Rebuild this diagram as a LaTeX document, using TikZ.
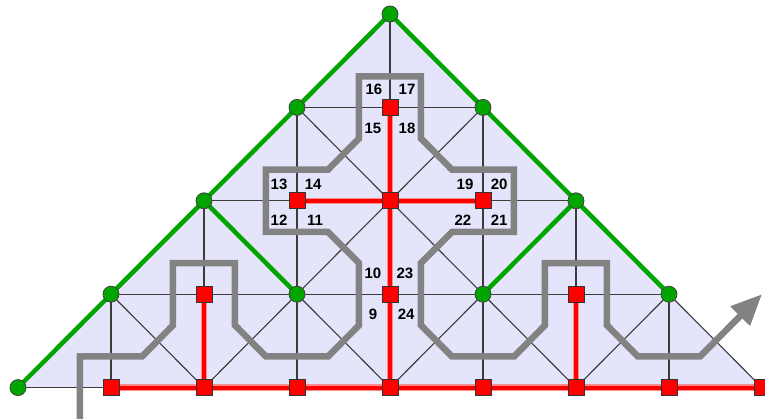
\documentclass[tikz,border=0pt]{standalone}
\usepackage{fontspec}
\setmainfont{Liberation Sans}
\usetikzlibrary{arrows.meta,backgrounds}
\definecolor{lav}{RGB}{228,228,250}
\definecolor{grn}{RGB}{0,165,0}
\definecolor{pathgray}{RGB}{130,130,130}
\definecolor{gridc}{RGB}{60,60,60}
\definecolor{redhalo}{RGB}{255,140,140}
\begin{document}
\begin{tikzpicture}[x=31pt,y=-31.133pt,
  gnode/.style={circle,fill=grn,draw=black!75,line width=0.8pt,minimum size=16pt,inner sep=0pt},
  rnode/.style={rectangle,fill=red,draw=black!80,line width=0.8pt,minimum size=16pt,inner sep=0pt},
  gridline/.style={draw=gridc,line width=1.1pt},
  greenedge/.style={draw=grn,line width=4.5pt},
  redhaloedge/.style={draw=redhalo,line width=6.5pt},
  rededge/.style={draw=red,line width=4pt},
  walk/.style={draw=pathgray,line width=6.5pt,line join=miter,-{Triangle[length=31pt,width=26pt]}},
  num/.style={font=\bfseries\fontsize{15}{15}\selectfont,inner sep=0pt,text=black}
]
\useasboundingbox (-0.5806,-0.4497) rectangle (24.097,13.0086);

% green nodes
\node[gnode] (g40) at (12,0) {};
\node[gnode] (g31) at (9,3) {};
\node[gnode] (g51) at (15,3) {};
\node[gnode] (g22) at (6,6) {};
\node[gnode] (g62) at (18,6) {};
\node[gnode] (g13) at (3,9) {};
\node[gnode] (g33) at (9,9) {};
\node[gnode] (g53) at (15,9) {};
\node[gnode] (g73) at (21,9) {};
\node[gnode] (g04) at (0,12) {};
% red nodes
\node[rnode] (r41) at (12,3) {};
\node[rnode] (r32) at (9,6) {};
\node[rnode] (r42) at (12,6) {};
\node[rnode] (r52) at (15,6) {};
\node[rnode] (r23) at (6,9) {};
\node[rnode] (r43) at (12,9) {};
\node[rnode] (r63) at (18,9) {};
\node[rnode] (r14) at (3,12) {};
\node[rnode] (r24) at (6,12) {};
\node[rnode] (r34) at (9,12) {};
\node[rnode] (r44) at (12,12) {};
\node[rnode] (r54) at (15,12) {};
\node[rnode] (r64) at (18,12) {};
\node[rnode] (r74) at (21,12) {};
\node[rnode] (r84) at (24,12) {};

\begin{pgfonlayer}{background}
  \fill[lav] (g04.center) -- (g40.center) -- (r84.center) -- cycle;
  % horizontal grid lines
  \foreach \a/\b in {g31/g51,g22/g62,g13/g73,g04/r84}
    \draw[gridline] (\a.center) -- (\b.center);
  % vertical grid lines
  \foreach \a/\b in {g40/r44,g31/r34,g51/r54,g22/r24,g62/r64,g13/r14,g73/r74}
    \draw[gridline] (\a.center) -- (\b.center);
  % diagonal grid lines
  \foreach \a/\b in {g04/g40,g40/r84,g31/g53,g51/g33,g22/r44,g62/r44,g13/r24,g33/r24,g53/r64,g73/r64}
    \draw[gridline] (\a.center) -- (\b.center);
  % green tree
  \foreach \a/\b in {g04/g40,g40/g73,g22/g33,g62/g53}
    \draw[greenedge] (\a.center) -- (\b.center);
  % red tree
  \foreach \a/\b in {r41/r44,r32/r52,r23/r24,r63/r64,r14/r84}
    \draw[redhaloedge] (\a.center) -- (\b.center);
  \foreach \a/\b in {r41/r44,r32/r52,r23/r24,r63/r64,r14/r84}
    \draw[rededge] (\a.center) -- (\b.center);
  % walk
  \coordinate (ws) at (2,13.2);
  \coordinate (we) at (24,9);
  \draw[walk] (ws) -- (2,11) -- (4,11) -- (5,10) -- (5,8) -- (7,8) -- (7,10) -- (8,11)
    -- (10,11) -- (11,10) -- (11,8) -- (10,7) -- (8,7) -- (8,5) -- (10,5) -- (11,4)
    -- (11,2) -- (13,2) -- (13,4) -- (14,5) -- (16,5) -- (16,7) -- (14,7) -- (13,8)
    -- (13,10) -- (14,11) -- (16,11) -- (17,10) -- (17,8) -- (19,8) -- (19,10)
    -- (20,11) -- (22,11) -- (we);
\end{pgfonlayer}

% labels
\node[num] (n16) at (11.48,2.41) {16};
\node[num] (n17) at (12.55,2.41) {17};
\node[num] (n15) at (11.45,3.66) {15};
\node[num] (n18) at (12.55,3.66) {18};
\node[num] (n13) at (8.42,5.46) {13};
\node[num] (n14) at (9.52,5.46) {14};
\node[num] (n12) at (8.42,6.62) {12};
\node[num] (n11) at (9.58,6.62) {11};
\node[num] (n19) at (14.42,5.46) {19};
\node[num] (n20) at (15.52,5.46) {20};
\node[num] (n22) at (14.35,6.62) {22};
\node[num] (n21) at (15.52,6.62) {21};
\node[num] (n10) at (11.45,8.32) {10};
\node[num] (n23) at (12.48,8.32) {23};
\node[num] (n9) at (11.45,9.64) {9};
\node[num] (n24) at (12.52,9.64) {24};
\end{tikzpicture}
\end{document}
